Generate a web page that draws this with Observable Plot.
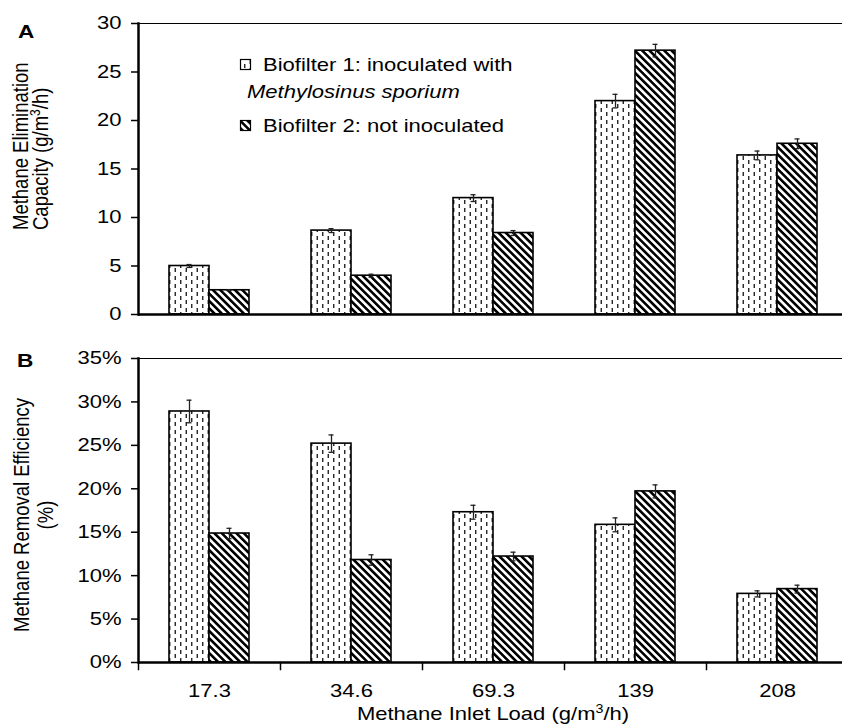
<!DOCTYPE html>
<html>
<head>
<meta charset="utf-8">
<script src="https://cdn.jsdelivr.net/npm/d3@7"></script>
<script src="https://cdn.jsdelivr.net/npm/@observablehq/plot@0.6"></script>
<style>
  html, body { margin: 0; padding: 0; background: #fff; overflow: hidden; }
  #root { position: relative; width: 842px; height: 724px; overflow: hidden; font-family: "Liberation Sans", Arial, sans-serif; }
  #root > svg.panel { position: absolute; left: 0; }
  #overlay { position: absolute; left: 0; top: 0; pointer-events: none; }
</style>
</head>
<body>
<svg width="0" height="0" style="position:absolute">
  <defs>
    <pattern id="pDash" patternUnits="userSpaceOnUse" width="11" height="8">
      <rect width="11" height="8" fill="#fff"/>
      <line x1="2.75" y1="0" x2="2.75" y2="4" stroke="#111" stroke-width="1.3"/>
      <line x1="8.25" y1="4" x2="8.25" y2="8" stroke="#111" stroke-width="1.3"/>
    </pattern>
    <pattern id="pDiag" patternUnits="userSpaceOnUse" width="5.2" height="10" patternTransform="rotate(-45)">
      <rect width="5.2" height="10" fill="#fff"/>
      <rect width="2.6" height="10" fill="#000"/>
    </pattern>
  </defs>
</svg>
<div id="root"></div>
<script>
// ---- data ----
const loads = ["17.3", "34.6", "69.3", "139", "208"];
const seriesNames = ["Biofilter 1: inoculated with Methylosinus sporium", "Biofilter 2: not inoculated"];

// Panel A: Methane Elimination Capacity (g/m3/h)
const capacity1 = [5.0, 8.65, 12.0, 22.0, 16.4];
const capacity2 = [2.5, 4.0, 8.4, 27.2, 17.6];
const capacityErr1 = [0.15, 0.2, 0.35, 0.7, 0.45];
const capacityErr2 = [0.05, 0.15, 0.25, 0.65, 0.5];
const capacityTicks = [0, 5, 10, 15, 20, 25, 30];

// Panel B: Methane Removal Efficiency (%)
const efficiency1 = [28.9, 25.2, 17.3, 15.85, 7.9];
const efficiency2 = [14.85, 11.8, 12.2, 19.7, 8.45];
const efficiencyErr1 = [1.3, 1.0, 0.8, 0.8, 0.35];
const efficiencyErr2 = [0.6, 0.6, 0.5, 0.75, 0.45];
const efficiencyTicks = [0, 5, 10, 15, 20, 25, 30, 35];

function buildRows(v1, v2, e1, e2) {
  const out = [];
  loads.forEach((l, i) => {
    out.push({load: l, series: seriesNames[0], value: v1[i], err: e1[i]});
    out.push({load: l, series: seriesNames[1], value: v2[i], err: e2[i]});
  });
  return out;
}

const FONT = "'Liberation Sans', Arial, sans-serif";
const FS = 18.5;        // font size
const SX = 1.19;        // the reference's lettering is horizontally wider

function stretchText(svg) {
  svg.querySelectorAll("text").forEach(t => {
    const tr = t.getAttribute("transform") || "";
    t.setAttribute("transform", tr + ` scale(${SX},1)`);
  });
}

function panel({rows, ticks, fmt, height, marginTop, marginBottom, xAxis}) {
  const plotH = height - marginTop - marginBottom;
  const yMax = ticks[ticks.length - 1];
  const marks = [
    Plot.ruleY([yMax], {stroke: "#000", strokeWidth: 1}),
    Plot.barY(rows.filter(d => d.series === seriesNames[0]), {fx: "load", x: "series", y: "value", fill: "url(#pDash)", stroke: "#000", strokeWidth: 1.6, inset: 0}),
    Plot.barY(rows.filter(d => d.series === seriesNames[1]), {fx: "load", x: "series", y: "value", fill: "url(#pDiag)", stroke: "#000", strokeWidth: 1.6, inset: 0}),
    Plot.ruleX(rows, {fx: "load", x: "series", y1: d => d.value - d.err, y2: d => d.value + d.err, stroke: "#222", strokeWidth: 1.3}),
    Plot.tickY(rows, {fx: "load", x: "series", y: d => d.value + d.err, insetLeft: 17.5, insetRight: 17.5, stroke: "#222", strokeWidth: 1.3}),
    Plot.tickY(rows, {fx: "load", x: "series", y: d => d.value - d.err, insetLeft: 17.5, insetRight: 17.5, stroke: "#222", strokeWidth: 1.3}),
    Plot.ruleY([0], {stroke: "#000", strokeWidth: 2.5}),
    Plot.frame({anchor: "left", facetAnchor: "left", stroke: "#000", strokeWidth: 2.5}),
    Plot.axisY({ticks, tickFormat: fmt, tickSize: 7, tickPadding: 10, fontSize: FS, stroke: "#000", strokeWidth: 1.5, label: null})
  ];
  if (xAxis) {
    marks.push(Plot.frame({anchor: "left", insetTop: plotH, insetBottom: -7, stroke: "#000", strokeWidth: 1.5}));
    marks.push(Plot.axisFx({anchor: "bottom", tickSize: 0, tickPadding: 21, fontSize: FS, label: null}));
  }
  const svg = Plot.plot({
    width: 849,
    height,
    marginLeft: 136,
    marginRight: 0,
    marginTop,
    marginBottom,
    style: {fontFamily: FONT, fontSize: FS + "px", color: "#000", background: "transparent", maxWidth: "none", overflow: "visible"},
    fx: {domain: loads, padding: 0, ...(xAxis ? {} : {axis: null})},
    x: {domain: seriesNames, paddingInner: 0, paddingOuter: 0.74, axis: null},
    y: {domain: [0, yMax], axis: null},
    marks
  });
  stretchText(svg);
  return svg;
}

const root = document.getElementById("root");

const pA = panel({rows: buildRows(capacity1, capacity2, capacityErr1, capacityErr2), ticks: capacityTicks, fmt: d => String(d), height: 330, marginTop: 23, marginBottom: 16, xAxis: false});
pA.classList.add("panel");
pA.style.top = "0px";
root.appendChild(pA);

const pB = panel({rows: buildRows(efficiency1, efficiency2, efficiencyErr1, efficiencyErr2), ticks: efficiencyTicks, fmt: d => d + "%", height: 394, marginTop: 28, marginBottom: 62, xAxis: true});
pB.classList.add("panel");
pB.style.top = "330px";
root.appendChild(pB);

// ---- titles, panel letters and legend (real text) ----
const NS = "http://www.w3.org/2000/svg";
const ov = document.createElementNS(NS, "svg");
ov.setAttribute("id", "overlay");
ov.setAttribute("width", 842);
ov.setAttribute("height", 724);
ov.setAttribute("font-family", FONT);
ov.setAttribute("font-size", FS);
ov.setAttribute("fill", "#000");
const S = `scale(${SX},1)`;
ov.innerHTML = `
  <text transform="translate(18,38) ${S}" font-weight="bold" font-size="19">A</text>
  <text transform="translate(17,367) ${S}" font-weight="bold" font-size="19">B</text>
  <text transform="translate(28,230) ${S} rotate(-90)">Methane Elimination</text>
  <text transform="translate(48,230) ${S} rotate(-90)">Capacity (g/m<tspan font-size="12" dy="-7">3</tspan><tspan dy="7">/h)</tspan></text>
  <text transform="translate(29,515) ${S} rotate(-90)" text-anchor="middle">Methane Removal Efficiency</text>
  <text transform="translate(53,515) ${S} rotate(-90)" text-anchor="middle">(%)</text>
  <text transform="translate(493,720) ${S}" text-anchor="middle">Methane Inlet Load (g/m<tspan font-size="12" dy="-7">3</tspan><tspan dy="7">/h)</tspan></text>
  <rect x="240.5" y="59.5" width="10" height="10" fill="url(#pDash)" stroke="#000" stroke-width="1.2"/>
  <text transform="translate(263,71) ${S}">Biofilter 1: inoculated with</text>
  <text transform="translate(247,98) ${S}" font-style="italic">Methylosinus sporium</text>
  <rect x="240.5" y="120.5" width="10" height="10" fill="url(#pDiag)" stroke="#000" stroke-width="1.2"/>
  <text transform="translate(263,132) ${S}">Biofilter 2: not inoculated</text>
`;
root.appendChild(ov);
</script>
</body>
</html>
